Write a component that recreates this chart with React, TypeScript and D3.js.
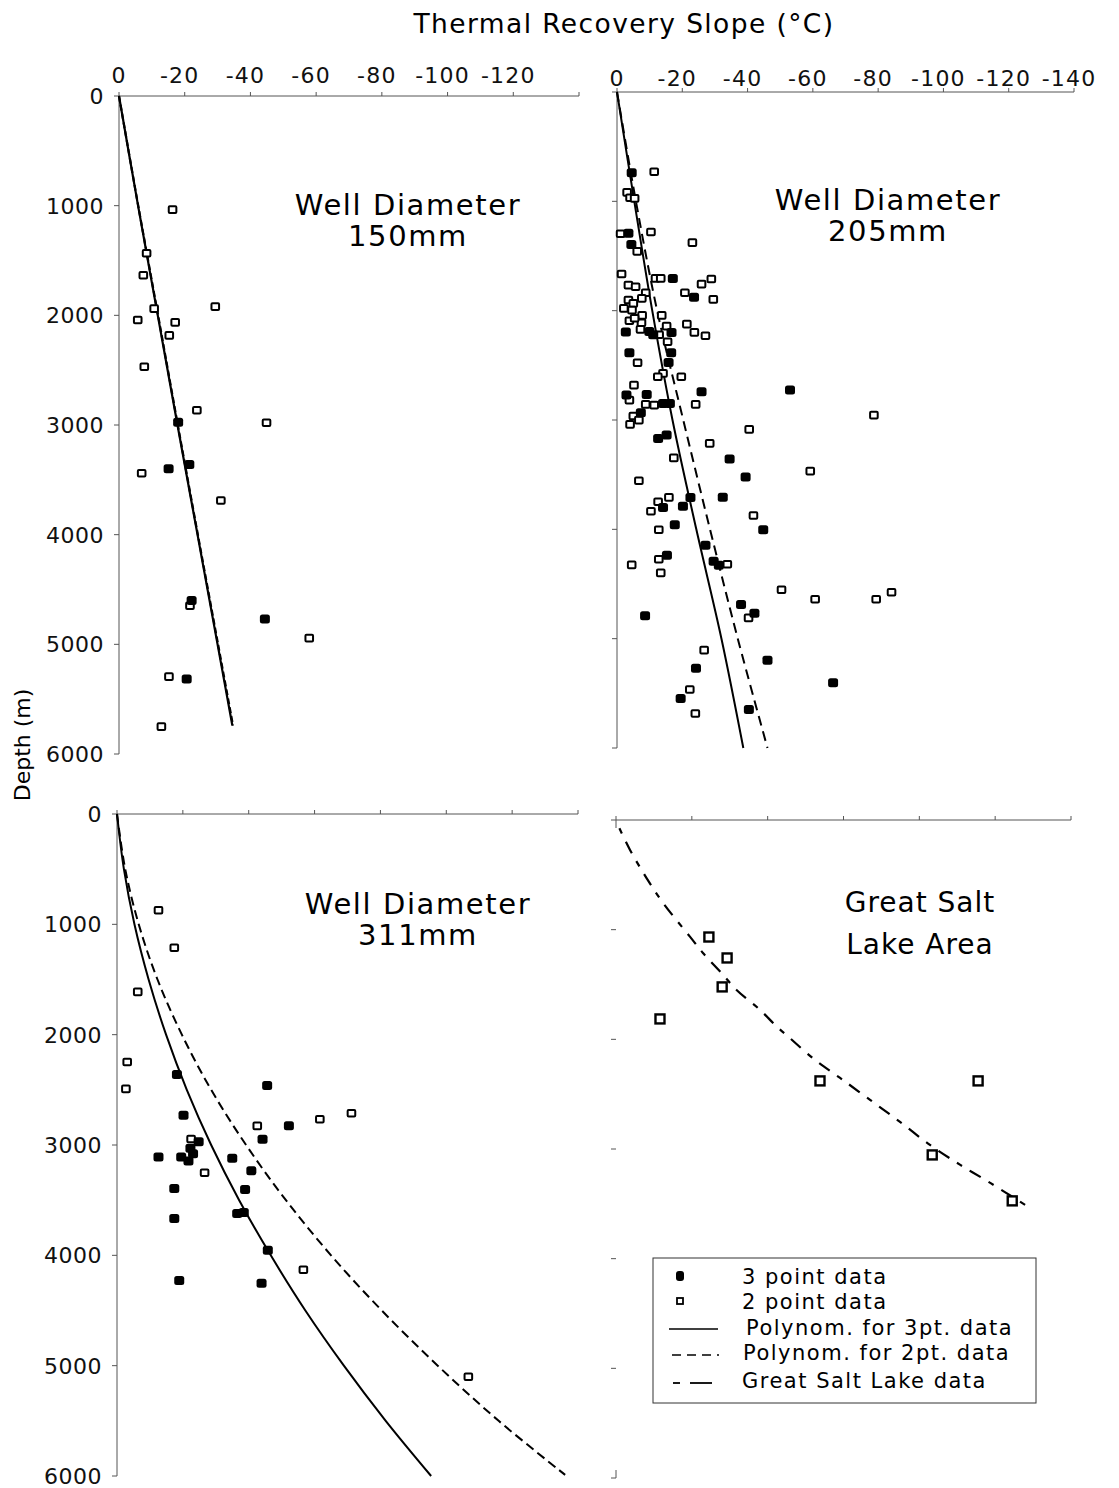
import React from 'react';
import * as d3 from 'd3';

const SANS = "'DejaVu Sans', Verdana, sans-serif";

// [slope °C, depth m]
type P = [number, number];

// ---------- Top-left: 150 mm ----------
const TL_3PT: P[] = [
  [-18.0, 2974], [-15.1, 3400], [-21.4, 3361], [-22.1, 4600], [-44.4, 4770], [-20.6, 5315],
];
const TL_2PT: P[] = [
  [-16.3, 1036], [-8.4, 1434], [-7.4, 1635], [-10.7, 1939], [-5.7, 2043], [-17.1, 2064],
  [-15.3, 2183], [-7.7, 2469], [-29.3, 1921], [-23.7, 2865], [-44.9, 2980], [-6.9, 3440],
  [-31.0, 3689], [-21.6, 4648], [-57.9, 4943], [-15.2, 5294], [-12.9, 5750],
];
const TL_FIT3: P[] = [[0, 0], [-5.8, 1000], [-11.8, 2000], [-17.8, 3000], [-23.9, 4000], [-30.0, 5000], [-34.5, 5740]];
const TL_FIT2: P[] = [[0, 0], [-5.85, 1000], [-11.9, 2000], [-17.9, 3000], [-24.0, 4000], [-30.15, 5000], [-34.7, 5740]];

// ---------- Top-right: 205 mm ----------
const TR_3PT: P[] = [
  [-4.5, 738], [-3.5, 1293], [-4.4, 1394], [-17.1, 1705], [-23.6, 1878], [-2.7, 2196],
  [-9.9, 2190], [-11.1, 2220], [-16.7, 2199], [-3.8, 2385], [-16.6, 2385], [-15.8, 2473],
  [-25.9, 2742], [-53.0, 2726], [-2.9, 2772], [-9.1, 2766], [-14.1, 2848], [-16.2, 2848],
  [-7.3, 2934], [-12.6, 3169], [-15.2, 3138], [-34.5, 3357], [-39.4, 3522], [-32.4, 3707],
  [-44.8, 4004], [-27.1, 4145], [-29.6, 4291], [-31.2, 4328], [-38.0, 4687], [-42.1, 4767],
  [-46.1, 5197], [-66.2, 5404], [-40.4, 5648], [-14.1, 3800], [-22.5, 3708], [-20.2, 3788],
  [-17.7, 3959], [-15.3, 4236], [-8.6, 4791], [-24.2, 5270], [-19.5, 5547],
];
const TR_2PT: P[] = [
  [-11.4, 729], [-3.1, 918], [-4.0, 967], [-5.4, 973], [-1.1, 1296], [-10.4, 1281],
  [-6.2, 1458], [-23.1, 1378], [-1.4, 1665], [-3.5, 1766], [-5.7, 1781], [-11.8, 1705],
  [-13.4, 1705], [-8.8, 1836], [-7.6, 1888], [-3.5, 1903], [-5.0, 1933], [-2.1, 1979],
  [-4.6, 1995], [-20.8, 1836], [-25.9, 1757], [-28.9, 1711], [-29.5, 1897], [-7.7, 2043],
  [-3.8, 2092], [-7.5, 2110], [-5.4, 2070], [-7.2, 2171], [-12.9, 2220], [-13.7, 2043],
  [-15.2, 2141], [-21.4, 2123], [-23.7, 2199], [-27.1, 2230], [-15.5, 2284], [-6.3, 2477],
  [-14.1, 2574], [-12.5, 2605], [-19.7, 2605], [-5.2, 2681], [-3.8, 2818], [-8.8, 2857],
  [-11.4, 2864], [-24.1, 2857], [-5.0, 2964], [-6.7, 3001], [-4.0, 3040], [-40.5, 3086],
  [-28.4, 3214], [-78.7, 2955], [-59.2, 3468], [-41.8, 3873], [-33.8, 4319], [-50.4, 4553],
  [-60.7, 4639], [-79.4, 4639], [-84.1, 4575], [-40.3, 4810], [-26.7, 5105], [-17.4, 3346],
  [-6.7, 3556], [-15.9, 3708], [-12.6, 3748], [-10.4, 3834], [-12.8, 4004], [-12.8, 4273],
  [-4.5, 4325], [-13.4, 4398], [-22.3, 5465], [-24.0, 5685],
];
const TR_FIT3: P[] = [[0, 0], [-5.3, 1000], [-10.8, 2000], [-17.0, 3000], [-24.3, 4000], [-32.0, 5000], [-38.7, 6000]];
const TR_FIT2: P[] = [[0, 0], [-5.8, 1000], [-12.3, 2000], [-20.3, 3000], [-28.5, 4000], [-37.0, 5000], [-46.1, 6000]];

// ---------- Bottom-left: 311 mm ----------
const BL_3PT: P[] = [
  [-18.2, 2361], [-45.6, 2461], [-20.2, 2730], [-52.2, 2825], [-44.2, 2948], [-24.8, 2970],
  [-22.3, 3030], [-23.1, 3079], [-21.7, 3145], [-19.5, 3109], [-12.6, 3109], [-35.0, 3121],
  [-40.8, 3233], [-17.4, 3394], [-38.9, 3403], [-36.5, 3621], [-38.5, 3612], [-17.4, 3667],
  [-45.8, 3955], [-18.9, 4227], [-43.9, 4252],
];
const BL_2PT: P[] = [
  [-12.6, 873], [-17.4, 1212], [-6.3, 1612], [-3.1, 2248], [-2.7, 2491], [-42.6, 2827],
  [-61.6, 2767], [-71.2, 2712], [-22.5, 2945], [-26.6, 3252], [-56.6, 4130], [-106.7, 5100],
];
const BL_FIT3: P[] = [
  [0, 0], [-2.1, 500], [-5.3, 1000], [-9.6, 1500], [-14.9, 2000], [-21.2, 2500], [-28.6, 3000],
  [-37.1, 3500], [-46.7, 4000], [-57.2, 4500], [-68.9, 5000], [-81.6, 5500], [-95.4, 6000],
];
const BL_FIT2: P[] = [
  [0, 0], [-2.5, 500], [-6.6, 1000], [-12.3, 1500], [-19.7, 2000], [-28.6, 2500], [-39.2, 3000],
  [-51.3, 3500], [-65.0, 4000], [-80.4, 4500], [-97.4, 5000], [-115.9, 5500], [-136.1, 5990],
];

// ---------- Bottom-right: Great Salt Lake ----------
const GSL_PTS: P[] = [
  [-24.5, 1067], [-29.3, 1258], [-28.0, 1522], [-11.6, 1814], [-53.8, 2379], [-95.5, 2379],
  [-83.4, 3054], [-104.5, 3473],
];
const GSL_FIT: P[] = [
  [-0.9, 76], [-3.7, 273], [-8.1, 532], [-12.5, 760], [-19.5, 1064], [-23.0, 1215], [-27.9, 1398],
  [-31.8, 1550], [-38.0, 1732], [-42.4, 1884], [-45.9, 1990], [-52.5, 2188], [-59.1, 2352],
  [-67.0, 2552], [-74.9, 2753], [-82.8, 2963], [-90.8, 3145], [-98.7, 3309], [-107.9, 3510],
];

const TICKS_140 = [0, -20, -40, -60, -80, -100, -120, -140];
const TICKS_120 = [0, -20, -40, -60, -80, -100, -120];
const DEPTH_TICKS = [0, 1000, 2000, 3000, 4000, 5000, 6000];
const TL_X_LABELS = [0, -20, -40, -60, -80, -100, -120];
const TR_X_LABELS = [0, -20, -40, -60, -80, -100, -120, -140];

interface Series { pts: P[]; kind: 'filled' | 'open' | 'big'; }
interface Curve { pts: P[]; dash?: string; width?: number; }
interface PanelCfg {
  x0: number; x1: number; xMin: number; y0: number; y1: number;
  xTicks: number[]; xLabels: number[]; yLabels: boolean; leftLine: boolean;
  series: Series[]; curves: Curve[]; title: string[]; titleX: number; titleY: number; titleGap: number;
  titleSize: number; titleSpacing: number;
}

const PANELS: PanelCfg[] = [
  {
    x0: 119, x1: 579, xMin: -140, y0: 96, y1: 754, xTicks: TICKS_140, xLabels: TL_X_LABELS,
    yLabels: true, leftLine: true,
    series: [{ pts: TL_2PT, kind: 'open' }, { pts: TL_3PT, kind: 'filled' }],
    curves: [{ pts: TL_FIT3, width: 2.2 }, { pts: TL_FIT2, dash: '6,3', width: 2.2 }],
    title: ['Well Diameter', '150mm'], titleX: 408, titleY: 215, titleGap: 31, titleSize: 29, titleSpacing: 1.6,
  },
  {
    x0: 617, x1: 1074, xMin: -140, y0: 92, y1: 748, xTicks: TICKS_140, xLabels: TR_X_LABELS,
    yLabels: false, leftLine: true,
    series: [{ pts: TR_2PT, kind: 'open' }, { pts: TR_3PT, kind: 'filled' }],
    curves: [{ pts: TR_FIT3, width: 2 }, { pts: TR_FIT2, dash: '10,6', width: 2 }],
    title: ['Well Diameter', '205mm'], titleX: 888, titleY: 210, titleGap: 31, titleSize: 29, titleSpacing: 1.6,
  },
  {
    x0: 117, x1: 578, xMin: -140, y0: 814, y1: 1476, xTicks: TICKS_140, xLabels: [],
    yLabels: true, leftLine: true,
    series: [{ pts: BL_2PT, kind: 'open' }, { pts: BL_3PT, kind: 'filled' }],
    curves: [{ pts: BL_FIT3, width: 2 }, { pts: BL_FIT2, dash: '9,5', width: 2 }],
    title: ['Well Diameter', '311mm'], titleX: 418, titleY: 914, titleGap: 31, titleSize: 29, titleSpacing: 1.6,
  },
  {
    x0: 616, x1: 1071, xMin: -120, y0: 820, y1: 1478, xTicks: TICKS_120, xLabels: [],
    yLabels: false, leftLine: false,
    series: [{ pts: GSL_PTS, kind: 'big' }],
    curves: [{ pts: GSL_FIT, dash: '6,9,13,9', width: 2.2 }],
    title: ['Great Salt', 'Lake Area'], titleX: 920, titleY: 912, titleGap: 42, titleSize: 28, titleSpacing: 1,
  },
];

const AXIS = '#555';

function Panel({ cfg, idx }: { cfg: PanelCfg; idx: number }) {
  const x = d3.scaleLinear().domain([0, cfg.xMin]).range([cfg.x0, cfg.x1]);
  const y = d3.scaleLinear().domain([0, 6000]).range([cfg.y0, cfg.y1]);
  const line = d3.line<P>().x((d) => x(d[0])).y((d) => y(d[1])).curve(d3.curveCatmullRom.alpha(0.5));
  const labelBase = idx === 0 ? 83 : 86;
  return (
    <g>
      {/* top axis */}
      <line x1={cfg.x0} x2={cfg.x1} y1={cfg.y0} y2={cfg.y0} stroke={AXIS} strokeWidth={1} />
      {cfg.xTicks.map((t) => (
        <line key={'xt' + t} x1={x(t)} x2={x(t)} y1={cfg.y0 - 4} y2={cfg.y0} stroke={AXIS} strokeWidth={1} />
      ))}
      {cfg.xLabels.map((t) => (
        <text key={'xl' + t} x={x(t) - (t === 0 ? 0 : 5)} y={labelBase} textAnchor="middle"
          fontFamily={SANS} fontSize={22} letterSpacing={1.2} fill="#111">
          {t === 0 ? '0' : '-' + Math.abs(t)}
        </text>
      ))}
      {/* left axis */}
      {cfg.leftLine && (
        <line x1={cfg.x0} x2={cfg.x0} y1={cfg.y0} y2={cfg.y1} stroke={AXIS} strokeWidth={1} />
      )}
      {DEPTH_TICKS.map((t) => (
        <line key={'yt' + t} x1={cfg.x0 - 5} x2={cfg.x0} y1={y(t)} y2={y(t)} stroke={AXIS} strokeWidth={1} />
      ))}
      {!cfg.leftLine && (
        <line x1={cfg.x0} x2={cfg.x0} y1={cfg.y0} y2={cfg.y0 + 8} stroke={AXIS} strokeWidth={1} />
      )}
      {!cfg.leftLine && (
        <line x1={cfg.x0} x2={cfg.x0} y1={cfg.y1 - 8} y2={cfg.y1} stroke={AXIS} strokeWidth={1} />
      )}
      {cfg.yLabels && DEPTH_TICKS.map((t) => (
        <text key={'yl' + t} x={cfg.x0 - 15} y={y(t)} dy="0.36em" textAnchor="end"
          fontFamily={SANS} fontSize={22} letterSpacing={0.5} fill="#111">
          {t}
        </text>
      ))}
      {/* curves */}
      {cfg.curves.map((c, i) => (
        <path key={'c' + i} d={line(c.pts) || ''} fill="none" stroke="#000"
          strokeWidth={c.width ?? 2} strokeDasharray={c.dash} />
      ))}
      {/* points */}
      {cfg.series.map((s, si) => s.pts.map((p, i) => {
        const cx = x(p[0]);
        const cy = y(p[1]);
        if (s.kind === 'filled') {
          return <rect key={`p${si}-${i}`} x={cx - 5} y={cy - 4.5} width={10} height={9} rx={2.5} fill="#000" />;
        }
        if (s.kind === 'big') {
          return <rect key={`p${si}-${i}`} x={cx - 4.5} y={cy - 4.5} width={9} height={9} fill="#fff" stroke="#000" strokeWidth={2.4} />;
        }
        return <rect key={`p${si}-${i}`} x={cx - 3.8} y={cy - 3.3} width={7.6} height={6.6} rx={1} fill="#fff" stroke="#000" strokeWidth={2} />;
      }))}
      {/* title */}
      {cfg.title.map((t, i) => (
        <text key={'t' + i} x={cfg.titleX} y={cfg.titleY + i * cfg.titleGap} textAnchor="middle"
          fontFamily={SANS} fontSize={cfg.titleSize} letterSpacing={cfg.titleSpacing} fill="#000">
          {t}
        </text>
      ))}
    </g>
  );
}

const LEGEND_ROWS = [
  { label: '3 point data', kind: 'filled' },
  { label: '2 point data', kind: 'open' },
  { label: 'Polynom. for 3pt. data', kind: 'solid' },
  { label: 'Polynom. for 2pt. data', kind: 'dashed' },
  { label: 'Great Salt Lake data', kind: 'gsl' },
];

function Legend() {
  const bx = 653, by = 1258, bw = 383, bh = 145;
  const rowY = [1276, 1301, 1327, 1352, 1380];
  return (
    <g>
      <rect x={bx} y={by} width={bw} height={bh} fill="#fff" stroke="#333" strokeWidth={1} />
      {LEGEND_ROWS.map((r, i) => {
        const yy = rowY[i];
        let sym: React.ReactNode = null;
        if (r.kind === 'filled') sym = <rect x={676} y={yy - 5} width={8} height={10} rx={3} fill="#000" />;
        if (r.kind === 'open') sym = <rect x={677} y={yy - 3} width={6} height={6} fill="#fff" stroke="#000" strokeWidth={1.8} />;
        if (r.kind === 'solid') sym = <line x1={669} x2={718} y1={yy + 2} y2={yy + 2} stroke="#000" strokeWidth={1.6} />;
        if (r.kind === 'dashed') sym = <line x1={672} x2={719} y1={yy + 3} y2={yy + 3} stroke="#000" strokeWidth={1.6} strokeDasharray="9,6" />;
        if (r.kind === 'gsl') sym = (
          <g>
            <line x1={673} x2={680} y1={yy + 3} y2={yy + 3} stroke="#000" strokeWidth={1.8} />
            <line x1={690} x2={712} y1={yy + 3} y2={yy + 3} stroke="#000" strokeWidth={1.8} />
          </g>
        );
        const tx = r.kind === 'solid' ? 746 : r.kind === 'dashed' ? 743 : 742;
        return (
          <g key={r.label}>
            {sym}
            <text x={tx} y={yy} dy="0.36em" fontFamily={SANS} fontSize={21} letterSpacing={1.5} fill="#000">
              {r.label}
            </text>
          </g>
        );
      })}
    </g>
  );
}

export default function App() {
  return (
    <svg width={1119} height={1488} viewBox="0 0 1119 1488"
      style={{ position: 'absolute', left: 0, top: 0, background: '#fff' }}>
      <rect x={0} y={0} width={1119} height={1488} fill="#fff" />
      <text x={624} y={33} textAnchor="middle" fontFamily={SANS} fontSize={26.5} letterSpacing={1.4} fill="#000">
        Thermal Recovery Slope (°C)
      </text>
      <text transform="translate(30,745) rotate(-90)" textAnchor="middle" fontFamily={SANS} fontSize={22} fill="#000">
        Depth (m)
      </text>
      {PANELS.map((p, i) => <Panel key={i} cfg={p} idx={i} />)}
      <Legend />
    </svg>
  );
}
